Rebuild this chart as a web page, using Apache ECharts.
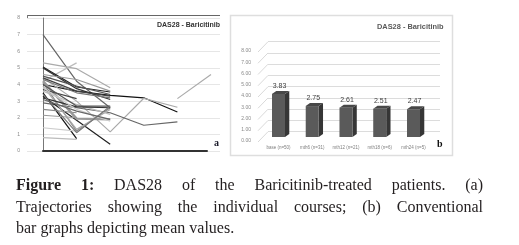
<!DOCTYPE html>
<html>
<head>
<meta charset="utf-8">
<script src="https://cdn.jsdelivr.net/npm/echarts@6/dist/echarts.min.js"></script>
<style>
  html, body { margin: 0; padding: 0; background: #fff; }
  #chart { position: absolute; left: 0; top: 0; width: 519px; height: 245px; }
  .caption {
    position: absolute; left: 16px; top: 174px; width: 467px;
    font-family: 'Liberation Serif', serif; font-size: 16px; line-height: 21.5px; color: #231f20;
  }
  .caption .just { text-align: justify; text-align-last: justify; }
</style>
</head>
<body>
<div id="chart"></div>
<div class="caption">
  <div class="just"><b>Figure 1:</b> DAS28 of the Baricitinib-treated patients. (a)</div>
  <div class="just">Trajectories showing the individual courses; (b) Conventional</div>
  <div>bar graphs depicting mean values.</div>
</div>
<script>
// (a) individual trajectories: base, mth6, mth12, mth18, mth24, last visit
const trajCats = ['base', 'mth6', 'mth12', 'mth18', 'mth24', 'mth30'];
const trajValues = [
  [7.0, 4.2, 2.6],
  [5.3, 4.95, 3.8],
  [4.2, 5.3],
  [5.05, 3.85, 3.55],
  [5.0, 3.75, 3.1],
  [4.0, 3.6, 3.35, 3.2, 2.35],
  [4.4, 3.0, 1.15, 3.17, 2.63],
  [null, null, null, null, 3.15, 4.6],
  [2.9, 2.6, 2.3, 1.55, 1.75],
  [3.3, 1.85, 0.4],
  [3.5, 0.75],
  [0.8, 0.7],
  [1.4, 1.2],
  [2.15, 2.0],
  [2.5, 2.3],
  [4.5, 3.9, 3.4],
  [4.3, 3.5, 3.2],
  [4.1, 1.2, 2.6],
  [3.9, 1.3, 2.5],
  [4.2, 1.95, 1.9],
  [3.7, 3.15],
  [3.6, 2.8, 2.2],
  [4.0, 2.7, 2.7],
  [3.2, 2.65, 2.6],
  [4.6, 4.3, 3.6],
  [3.8, 2.5, 1.8],
  [3.4, 1.1, 2.7],
  [4.4, 3.6, 3.3],
  [3.1, 2.4, 1.9]
];
const trajShades = ['#666', '#aaa', '#bbb', '#222', '#333', '#111', '#aaa', '#aaa', '#666', '#222',
  '#111', '#bbb', '#ccc', '#999', '#888', '#555', '#777', '#888', '#aaa', '#999',
  '#444', '#bbb', '#555', '#333', '#999', '#ccc', '#777', '#444', '#666'];
const trajTicks = [0, 1, 2, 3, 4, 5, 6, 7, 8];

// (b) means
const barCats = ['base (n=50)', 'mth6 (n=31)', 'mth12 (n=21)', 'mth18 (n=6)', 'mth24 (n=5)'];
const barMeans = [3.83, 2.75, 2.61, 2.51, 2.47];
const barTicks = [0, 1, 2, 3, 4, 5, 6, 7, 8];

const chart = echarts.init(document.getElementById('chart'));

const trajSeries = trajValues.map((vals, k) => ({
  type: 'line',
  xAxisIndex: 0,
  yAxisIndex: 0,
  data: vals.map((v, i) => (v == null ? null : [i, v])).filter((d) => d),
  showSymbol: false,
  silent: true,
  lineStyle: { color: trajShades[k], width: k === 19 ? 2.4 : 1.2 },
  z: 3,
}));

const option = {
  animation: false,
  grid: [
    { left: 27, top: 18, width: 193, height: 133 },
    { left: 43, top: 150, width: 164, height: 1 },
    { left: 268, top: 41.7, width: 172, height: 90 },
    { left: 261.6, top: 47, width: 168.75, height: 90 },
    { left: 257, top: 51, width: 10, height: 90 },
  ],
  xAxis: [
    { gridIndex: 0, type: 'value', min: -0.476, max: 5.268, show: false },
    {
      gridIndex: 1, type: 'value', min: 0, max: 1,
      axisLine: { show: true, lineStyle: { color: '#333', width: 2 } },
      axisTick: { show: false }, axisLabel: { show: false }, splitLine: { show: false },
    },
    { gridIndex: 2, type: 'category', data: barCats, show: false },
    {
      gridIndex: 3, type: 'category', data: barCats,
      axisLine: { show: false }, axisTick: { show: false },
      axisLabel: {
        interval: 0, hideOverlap: false,
        fontSize: 4.5, color: '#7f7f7f', margin: 8, fontFamily: 'Liberation Sans',
      },
    },
    { gridIndex: 4, type: 'value', min: 0, max: 1, show: false },
  ],
  yAxis: [
    {
      gridIndex: 0, type: 'value', min: 0, max: 8, interval: 1,
      axisLine: { show: true, lineStyle: { color: '#777', width: 1 } },
      axisTick: { show: false },
      axisLabel: { fontSize: 5, color: '#888', margin: 7, fontFamily: 'Liberation Sans' },
      splitLine: { lineStyle: { color: '#e6e6e6', width: 1 } },
    },
    { gridIndex: 1, type: 'value', show: false },
    {
      gridIndex: 2, type: 'value', min: 0, max: 8, interval: 1,
      axisLine: { show: false }, axisTick: { show: false }, axisLabel: { show: false },
      splitLine: { lineStyle: { color: '#dcdcdc', width: 1 } },
    },
    { gridIndex: 3, type: 'value', min: 0, max: 8, show: false },
    {
      gridIndex: 4, type: 'value', min: 0, max: 8, interval: 1,
      axisLine: { show: false }, axisTick: { show: false }, splitLine: { show: false },
      axisLabel: {
        fontSize: 5, color: '#888', margin: 6, fontFamily: 'Liberation Sans',
        formatter: (v) => v.toFixed(2),
      },
    },
  ],
  graphic: [
    // panel (a) frame
    { type: 'line', shape: { x1: 27, y1: 15.5, x2: 220, y2: 15.5 }, style: { stroke: '#666', lineWidth: 1 } },
    { type: 'line', shape: { x1: 27.5, y1: 15, x2: 27.5, y2: 18 }, style: { stroke: '#777', lineWidth: 1 } },
    {
      type: 'text', left: 157, top: 22,
      style: { text: 'DAS28 - Baricitinib', font: 'bold 7px "Liberation Sans", sans-serif', fill: '#333' },
    },
    {
      type: 'text', left: 214, top: 138,
      style: { text: 'a', font: 'bold 10px "Liberation Serif", serif', fill: '#1a1a2a' },
    },
    // panel (b) frame
    {
      type: 'rect', shape: { x: 230.5, y: 15.5, width: 222, height: 140 },
      style: { fill: 'none', stroke: '#dedede', lineWidth: 1.5 }, z: 0,
    },
    {
      type: 'text', left: 377, top: 23.5,
      style: { text: 'DAS28 - Baricitinib', font: 'bold 7.4px "Liberation Sans", sans-serif', fill: '#595959' },
    },
    {
      type: 'text', left: 437, top: 139,
      style: { text: 'b', font: 'bold 10px "Liberation Serif", serif', fill: '#111' },
    },
  ],
  series: [
    ...trajSeries,
    {
      type: 'custom',
      xAxisIndex: 4,
      yAxisIndex: 4,
      silent: true,
      data: barTicks.map((t) => [0, t]),
      renderItem: (params, api) => {
        const p = api.coord([0, api.value(1)]);
        return {
          type: 'line',
          shape: { x1: p[0] + 1, y1: p[1] + 1, x2: p[0] + 11, y2: p[1] - 9.3 },
          style: { stroke: '#d9d9d9', lineWidth: 1 },
        };
      },
    },
    {
      type: 'custom',
      xAxisIndex: 3,
      yAxisIndex: 3,
      silent: true,
      data: barMeans.map((v, i) => [i, v]),
      renderItem: (params, api) => {
        const v = api.value(1);
        const top = api.coord([api.value(0), v]);
        const base = api.coord([api.value(0), 0]);
        const w = 13;
        const dx = 4.3;
        const dy = 3;
        const l = top[0] - w / 2;
        const r = top[0] + w / 2;
        return {
          type: 'group',
          children: [
            {
              type: 'polygon',
              shape: { points: [[r, top[1]], [r + dx, top[1] - dy], [r + dx, base[1] - dy], [r, base[1]]] },
              style: { fill: '#363636' },
            },
            {
              type: 'polygon',
              shape: { points: [[l, top[1]], [l + dx, top[1] - dy], [r + dx, top[1] - dy], [r, top[1]]] },
              style: { fill: '#474747' },
            },
            {
              type: 'rect',
              shape: { x: l, y: top[1], width: w, height: base[1] - top[1] },
              style: { fill: '#5a5a5a' },
            },
            {
              type: 'text',
              style: {
                text: v.toFixed(2), x: top[0] + 1, y: top[1] - 8,
                font: '7px "Liberation Sans", sans-serif', fill: '#404040',
                align: 'center', verticalAlign: 'middle',
              },
            },
          ],
        };
      },
    },
  ],
};

chart.setOption(option);
window.addEventListener('resize', () => chart.resize());
</script>
</body>
</html>
